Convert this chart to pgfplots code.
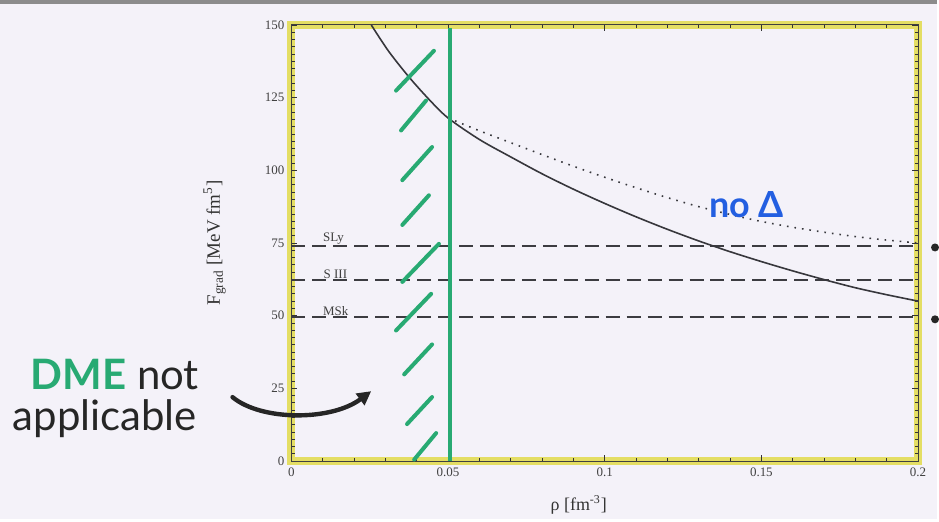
\documentclass[border=0pt]{standalone}
\usepackage{fontspec}
\setmainfont{Liberation Serif}
\newfontfamily\hand{Lato}
\usepackage{pgfplots}
\pgfplotsset{compat=1.18}
\usetikzlibrary{arrows.meta}
\definecolor{bg}{RGB}{244,242,249}
\definecolor{hl}{RGB}{228,222,100}
\definecolor{mk}{RGB}{40,170,115}
\definecolor{blu}{RGB}{35,95,225}
\definecolor{crv}{RGB}{55,55,60}
\definecolor{dsh}{RGB}{60,60,65}
\begin{document}
\begin{tikzpicture}
% page background (939 x 520 px at 0.5pt per px)
\fill[bg] (-146pt,-29pt) rectangle (323.5pt,231pt);
\fill[black!45] (-146pt,229pt) rectangle (323.5pt,231pt);
% highlighter on the frame
\draw[hl, line width=4pt] (0,0) rectangle (314pt,218.5pt);
\begin{axis}[
  scale only axis, width=314pt, height=218.5pt,
  xmin=0, xmax=0.2, ymin=0, ymax=150,
  clip=false,
  xtick={0,0.05,0.1,0.15,0.2}, xticklabels={0,0.05,0.1,0.15,0.2},
  ytick={0,25,50,75,100,125,150}, yticklabels={0,25,50,75,100,125,150},
  minor x tick num=4, minor y tick num=9,
  tick align=inside,
  major tick length=3pt, minor tick length=1.6pt,
  tick style={black!80, line width=0.4pt},
  axis line style={black!75, line width=0.5pt},
  /pgf/number format/assume math mode=true,
  ticklabel style={font=\fontsize{6.5}{7}\selectfont, text=black!75},
  xlabel={ρ [fm\textsuperscript{-3}]},
  ylabel={F\textsubscript{grad} [MeV fm\textsuperscript{5}]},
  xlabel style={at={(axis description cs:0.4586,-0.1007)}, anchor=center, font=\fontsize{9}{10}\selectfont, text=black!80},
  ylabel style={at={(axis description cs:-0.1226,0.50)}, anchor=center, font=\fontsize{9.5}{10}\selectfont, text=black!80},
]
% horizontal reference lines
\addplot[dsh, line width=0.9pt, dash pattern=on 7pt off 3.5pt] coordinates {(0,74) (0.2,74)};
\addplot[dsh, line width=0.9pt, dash pattern=on 7pt off 3.5pt] coordinates {(0,62.3) (0.2,62.3)};
\addplot[dsh, line width=0.9pt, dash pattern=on 7pt off 3.5pt] coordinates {(0,49.5) (0.2,49.5)};
\node[anchor=south west, inner sep=0.6pt, font=\fontsize{6.5}{7}\selectfont, text=black!75] at (axis cs:0.0096,74) {SLy};
\node[anchor=south west, inner sep=0.6pt, font=\fontsize{6.5}{7}\selectfont, text=black!75] at (axis cs:0.0098,62.3) {S III};
\node[anchor=south west, inner sep=0.6pt, font=\fontsize{6.5}{7}\selectfont, text=black!75] at (axis cs:0.0096,49.5) {MSk};
% solid curve
\addplot[crv, line width=0.8pt, smooth] coordinates {
(0.0255,150) (0.031,141) (0.0376,132) (0.044,124.3) (0.05,118) (0.06,110.6)
(0.07,104.6) (0.08,98.8) (0.09,93.5) (0.1,88.6) (0.11,84) (0.12,79.7) (0.13,75.7)
(0.14,72) (0.15,68.6) (0.16,65.4) (0.17,62.4) (0.18,59.6) (0.19,57.2) (0.2,55)};
% dotted curve (no Delta)
\addplot[crv, line width=0.8pt, dash pattern=on 0.8pt off 3pt, smooth] coordinates {
(0.05,118) (0.06,113.6) (0.07,109.5) (0.08,105.4) (0.09,101.4) (0.1,97.6) (0.11,94)
(0.12,90.6) (0.13,87.5) (0.14,84.8) (0.15,82.4) (0.16,80.4) (0.17,78.7) (0.18,77.2)
(0.19,76) (0.2,75)};
% green boundary and hatching
\addplot[mk, line width=2pt] coordinates {(0.0505,0) (0.0505,149)};
\draw[mk, line width=2pt, line cap=round] (axis cs:0.0334,127.4) -- (axis cs:0.0455,141.1);
\draw[mk, line width=2pt, line cap=round] (axis cs:0.0350,113.7) -- (axis cs:0.0430,124);
\draw[mk, line width=2pt, line cap=round] (axis cs:0.0354,96.6) -- (axis cs:0.0449,108);
\draw[mk, line width=2pt, line cap=round] (axis cs:0.0354,81.2) -- (axis cs:0.0439,91.4);
\draw[mk, line width=2pt, line cap=round] (axis cs:0.0354,61.6) -- (axis cs:0.0471,74.7);
\draw[mk, line width=2pt, line cap=round] (axis cs:0.0334,44.9) -- (axis cs:0.0446,57.5);
\draw[mk, line width=2pt, line cap=round] (axis cs:0.0360,29.8) -- (axis cs:0.0449,40.1);
\draw[mk, line width=2pt, line cap=round] (axis cs:0.0369,12.7) -- (axis cs:0.0449,22);
\draw[mk, line width=2pt, line cap=round] (axis cs:0.0392,0.5) -- (axis cs:0.0462,9.6);
\end{axis}
% handwritten annotations
\node[font=\hand\fontsize{21}{24}\selectfont, text=black!85] at (-88.5pt,43.5pt) {\textcolor{mk}{\bfseries DME} not};
\node[font=\hand\fontsize{21}{24}\selectfont, text=black!85] at (-93.5pt,21pt) {applicable};
\draw[black!85, line width=2.2pt, line cap=round, -{Triangle[length=7pt,width=7pt]}]
  (-29.5pt,32pt) .. controls (-15pt,20pt) and (20pt,20pt) .. (40pt,35pt);
\node[font=\hand\bfseries\fontsize{18}{20}\selectfont, text=blu] at (228pt,128.5pt) {no Δ};
\fill[black!85] (322.5pt,107pt) circle (2pt);
\fill[black!85] (322.5pt,71pt) circle (2pt);
\end{tikzpicture}
\end{document}
